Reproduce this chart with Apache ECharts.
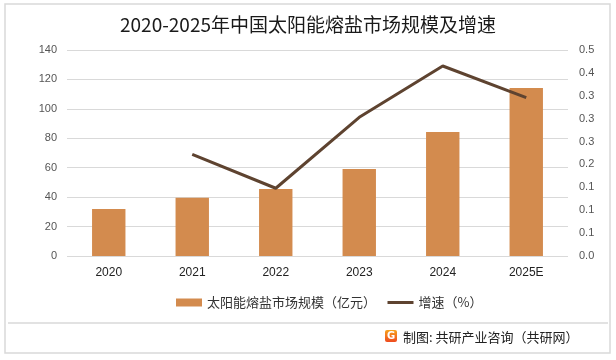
<!DOCTYPE html>
<html>
<head>
<meta charset="utf-8">
<script src="https://cdn.jsdelivr.net/npm/echarts@6/dist/echarts.min.js"></script>
<style>
html,body{margin:0;padding:0;background:#fff;}
#chart{width:616px;height:360px;}
</style>
</head>
<body>
<div id="chart"></div>
<script>
const categories = ['2020', '2021', '2022', '2023', '2024', '2025E'];
const marketSize = [32, 39.6, 45.5, 59.1, 84.3, 114.2];
const growthRate = [null, 0.222, 0.148, 0.303, 0.415, 0.346];
const leftTicks = [0, 20, 40, 60, 80, 100, 120, 140];
const rightTicks = [0, 0.05, 0.1, 0.15, 0.2, 0.25, 0.3, 0.35, 0.4, 0.45];
const barName = '太阳能熔盐市场规模（亿元）';
const lineName = '增速（%）';
const titleText = '2020-2025年中国太阳能熔盐市场规模及增速';
const footerText = '制图: 共研产业咨询（共研网）';

const chart = echarts.init(document.getElementById('chart'), null, {renderer: 'canvas'});
const cjk = '"Noto Sans CJK SC", "Noto Sans", sans-serif';
const num = '"Liberation Sans", "DejaVu Sans", sans-serif';

chart.setOption({
  backgroundColor: '#ffffff',
  animation: false,
  title: {
    text: titleText,
    left: 'center',
    top: 10,
    textStyle: {fontFamily: cjk, fontSize: 19, fontWeight: 'normal', color: '#1a1a1a'}
  },
  legend: {
    bottom: 46,
    left: 171,
    itemWidth: 26,
    itemHeight: 8,
    itemGap: 10,
    textStyle: {fontFamily: cjk, fontSize: 13, color: '#333'},
    data: [
      {name: barName, icon: 'rect'},
      {name: lineName, itemStyle: {opacity: 0}, lineStyle: {color: '#5e4330', width: 3}}
    ]
  },
  grid: {left: 67, right: 48, top: 50, bottom: 104},
  xAxis: {
    type: 'category',
    data: categories,
    axisLine: {show: false},
    axisTick: {show: false},
    axisLabel: {fontFamily: num, fontSize: 12, color: '#222', margin: 11}
  },
  yAxis: [
    {
      type: 'value',
      min: leftTicks[0],
      max: leftTicks[leftTicks.length - 1],
      interval: 20,
      axisLine: {show: false},
      axisTick: {show: false},
      splitLine: {lineStyle: {color: '#d9d9d9', width: 1}},
      axisLabel: {fontFamily: num, fontSize: 11, color: '#555', margin: 10}
    },
    {
      type: 'value',
      min: rightTicks[0],
      max: rightTicks[rightTicks.length - 1],
      interval: 0.05,
      axisLine: {show: false},
      axisTick: {show: false},
      splitLine: {show: false},
      axisLabel: {fontFamily: num, fontSize: 11, color: '#555', margin: 11,
        formatter: v => v.toFixed(1)}
    }
  ],
  series: [
    {
      name: barName,
      type: 'bar',
      data: marketSize,
      barWidth: '40%',
      itemStyle: {color: '#d38b4e'}
    },
    {
      name: lineName,
      type: 'line',
      yAxisIndex: 1,
      data: growthRate,
      symbol: 'none',
      connectNulls: false,
      lineStyle: {color: '#5e4330', width: 3},
      itemStyle: {color: '#5e4330'}
    }
  ],
  graphic: [
    {type: 'rect', shape: {x: 5, y: 4, width: 605, height: 349}, style: {fill: 'none', stroke: '#d9d9d9', lineWidth: 1.5}, silent: true, z: -1},
    {type: 'line', shape: {x1: 8, y1: 323, x2: 608, y2: 323}, style: {stroke: '#d9d9d9', lineWidth: 1.5}, silent: true},
    {type: 'rect', shape: {x: 385, y: 330, width: 12, height: 12, r: 2},
      style: {fill: new echarts.graphic.LinearGradient(0, 0, 0, 1, [{offset: 0, color: '#f7a21b'}, {offset: 1, color: '#ee4a1f'}])}},
    {type: 'text', x: 391, y: 336, style: {text: 'G', fill: '#fff', font: 'bold 10px "DejaVu Sans"', textAlign: 'center', textVerticalAlign: 'middle'}},
    {type: 'text', x: 403, y: 337, style: {text: footerText, fill: '#222', font: '13px "Noto Sans CJK SC"', textVerticalAlign: 'middle'}}
  ]
});
</script>
</body>
</html>
